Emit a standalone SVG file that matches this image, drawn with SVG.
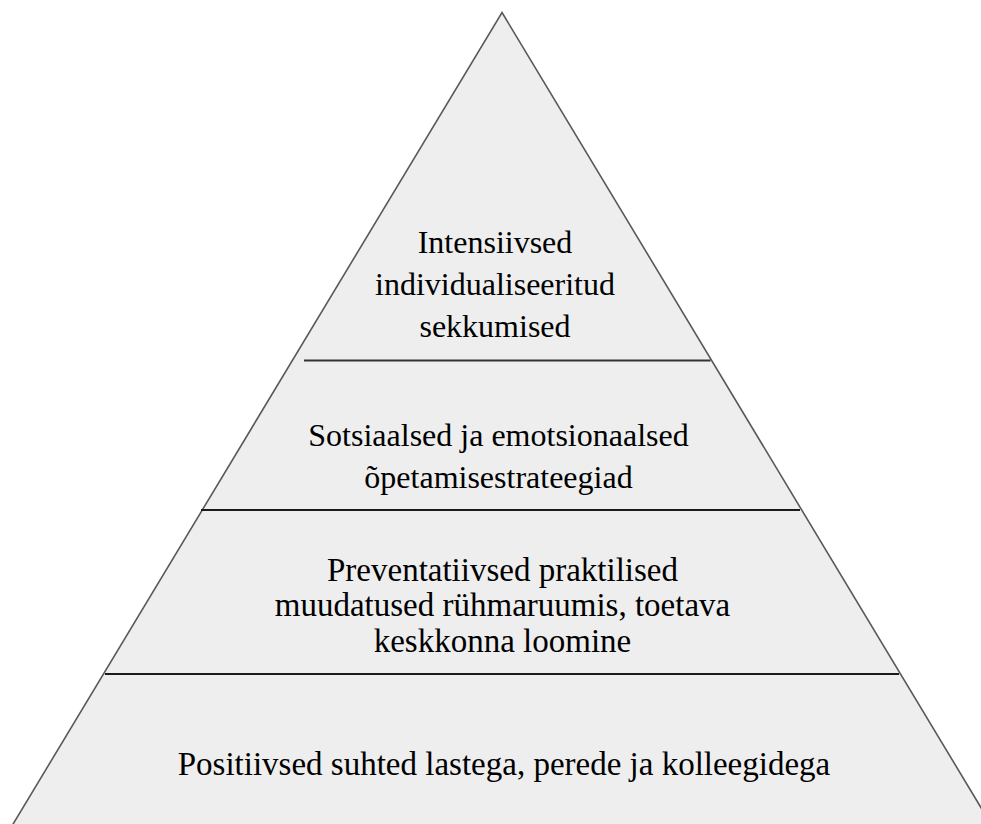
<svg xmlns="http://www.w3.org/2000/svg" width="981" height="824" viewBox="0 0 981 824">
<style>
.tri{fill:#eeeeee;stroke:#595959;stroke-width:1.6}
.div{stroke:#1a1a1a;stroke-width:2;fill:none}
.lbl{font-family:"Liberation Serif","Times New Roman",serif;font-size:32px;fill:#000;text-anchor:middle}
.big{font-size:33px}
</style>
<rect width="981" height="824" fill="#ffffff"/>
<g id="pyramid">
<polygon class="tri" points="502,12.5 994.5,830 9.5,830"/>
</g>
<g id="dividers">
<line class="div" x1="304" y1="360.5" x2="710.5" y2="360.5" style="stroke:#333;stroke-width:1.8"/>
<line class="div" x1="201" y1="510" x2="800" y2="510"/>
<line class="div" x1="105" y1="674" x2="899" y2="674"/>
</g>
<g id="tier1">
<text class="lbl" x="495" y="253">Intensiivsed</text>
<text class="lbl" x="495" y="295">individualiseeritud</text>
<text class="lbl" x="495" y="337">sekkumised</text>
</g>
<g id="tier2">
<text class="lbl" x="498.5" y="446">Sotsiaalsed ja emotsionaalsed</text>
<text class="lbl" x="498.5" y="488">õpetamisestrateegiad</text>
</g>
<g id="tier3">
<text class="lbl big" x="502.5" y="581">Preventatiivsed praktilised</text>
<text class="lbl big" x="502.5" y="616">muudatused rühmaruumis, toetava</text>
<text class="lbl big" x="502.5" y="652">keskkonna loomine</text>
</g>
<g id="tier4">
<text class="lbl big" x="504" y="775">Positiivsed suhted lastega, perede ja kolleegidega</text>
</g>
</svg>
